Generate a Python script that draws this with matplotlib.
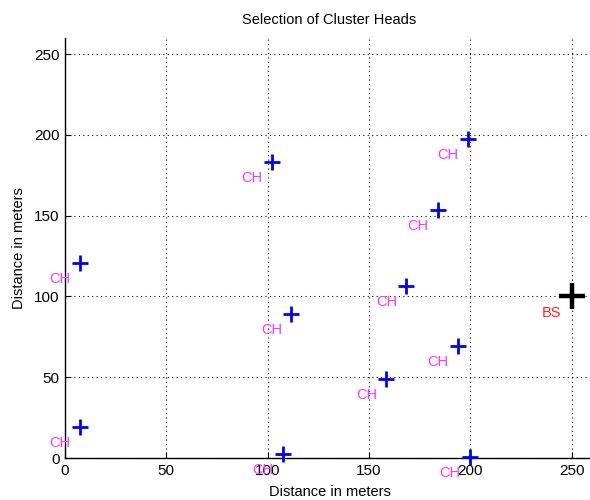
import matplotlib
matplotlib.use("Agg")
import matplotlib.pyplot as plt

plt.rcParams['font.family'] = ['Liberation Sans', 'DejaVu Sans']

# Cluster head positions (meters)
ch_x = [7.4, 7.2, 102.2, 111.7, 107.6, 168.4, 158.5, 183.8, 198.8, 193.7, 199.6]
ch_y = [120.9, 19.5, 183.1, 89.0, 2.5, 106.7, 48.9, 153.6, 197.3, 69.3, 0.8]
# Base station
bs_x = [250]
bs_y = [100]
label_dx = -15
label_dy = -10

ticks = [0, 50, 100, 150, 200, 250]

fig = plt.figure(figsize=(5.9, 5.0), dpi=100)
ax = fig.add_axes([65/590, 42/500, (594-65)/590, (458-38)/500])

ax.plot(ch_x, ch_y, linestyle='none', marker='+', color='#0000ff',
        markersize=11, markeredgewidth=2, clip_on=False, zorder=3)
for x, y in zip(ch_x, ch_y):
    ax.text(x + label_dx, y + label_dy, 'CH', color='#ff33ff', fontsize=10.5,
            ha='left', va='center', clip_on=False)

ax.plot(bs_x, bs_y, linestyle='none', marker='+', color='black',
        markersize=18.5, markeredgewidth=3.2, clip_on=False, zorder=3)
for x, y in zip(bs_x, bs_y):
    ax.text(x + label_dx, y + label_dy, 'BS', color='#ff2020', fontsize=10.5,
            ha='left', va='center', clip_on=False)

ax.set_xlim(0, 261)
ax.set_ylim(0, 260)
ax.set_xticks(ticks)
ax.set_yticks(ticks)
ax.tick_params(direction='in', length=4, labelsize=11, colors='black', pad=4)
ax.grid(True, color='black', linestyle=(0, (1, 3)), linewidth=0.8)
ax.set_axisbelow(True)
for s in ['top', 'right']:
    ax.spines[s].set_visible(False)
for s in ['left', 'bottom']:
    ax.spines[s].set_linewidth(1.0)

ax.set_title('Selection of Cluster Heads', fontsize=10.5, pad=10)
ax.set_xlabel('Distance in meters', fontsize=10.5, labelpad=5)
ax.set_ylabel('Distance in meters', fontsize=10.5, labelpad=6)

fig.savefig('out.png', dpi=100)
